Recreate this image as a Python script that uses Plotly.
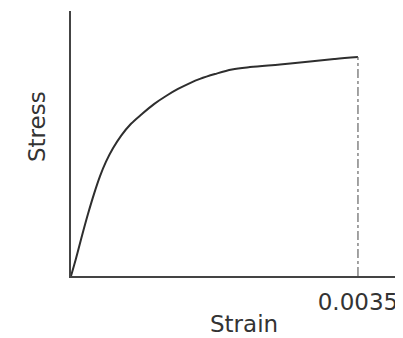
import plotly.graph_objects as go

# Data (stress in relative units, 1.0 = stress at 0.0035 strain)
strain = [0.0, 0.000061, 0.000134, 0.000207, 0.000280, 0.000354, 0.000427, 0.000512,
          0.000610, 0.000732, 0.000866, 0.001012, 0.001159, 0.001305, 0.001451,
          0.001573, 0.001756, 0.001963, 0.002183, 0.002549, 0.002915, 0.003220, 0.0035]
stress = [0.0, 0.080, 0.184, 0.283, 0.374, 0.456, 0.522, 0.583,
          0.640, 0.695, 0.740, 0.785, 0.822, 0.854, 0.881,
          0.900, 0.922, 0.943, 0.954, 0.966, 0.979, 0.991, 1.0]
ultimate_strain = 0.0035
tick_vals = [0.0035]
tick_text = ["0.0035"]

font_family = "DejaVu Sans, sans-serif"
ink = "#333333"

fig = go.Figure()
fig.add_trace(go.Scatter(
    x=strain, y=stress, mode="lines",
    line=dict(color="#2e2e2e", width=2, shape="spline", smoothing=1.0),
    hoverinfo="skip", showlegend=False))
fig.add_trace(go.Scatter(
    x=[ultimate_strain, ultimate_strain], y=[0, stress[-1]], mode="lines",
    line=dict(color="#666666", width=1.2, dash="dashdot"),
    hoverinfo="skip", showlegend=False))

# The page body has an 8px default margin, so the figure is sized to fit the window
W, H = 395, 330
ML, MR, MT, MB = 63, 6, 3, 62
fig.update_layout(
    width=W, height=H,
    margin=dict(l=ML, r=MR, t=MT, b=MB, autoexpand=False),
    paper_bgcolor="white", plot_bgcolor="white",
    font=dict(family=font_family, color=ink, size=23),
    xaxis=dict(range=[0, 0.003976], showgrid=False, zeroline=False,
               showline=True, linecolor="#444444", linewidth=2,
               tickvals=tick_vals, ticktext=tick_text,
               ticks="outside", ticklen=4, tickcolor="rgba(0,0,0,0)",
               tickfont=dict(size=23, color=ink, family=font_family)),
    yaxis=dict(range=[0, 1.210], showgrid=False, zeroline=False,
               showline=True, linecolor="#444444", linewidth=2,
               showticklabels=False, ticks=""),
)
pw, ph = W - ML - MR, H - MT - MB
fig.add_annotation(text="Strain", xref="paper", yref="paper",
                   x=(236 - ML) / pw, y=(H - MB - 316) / ph,
                   xanchor="center", yanchor="middle", showarrow=False,
                   font=dict(size=23, color=ink, family=font_family))
fig.add_annotation(text="Stress", textangle=-90, xref="paper", yref="paper",
                   x=(29 - ML) / pw, y=(H - MB - 119) / ph,
                   xanchor="center", yanchor="middle", showarrow=False,
                   font=dict(size=23, color=ink, family=font_family))

fig.write_html("out.html")
